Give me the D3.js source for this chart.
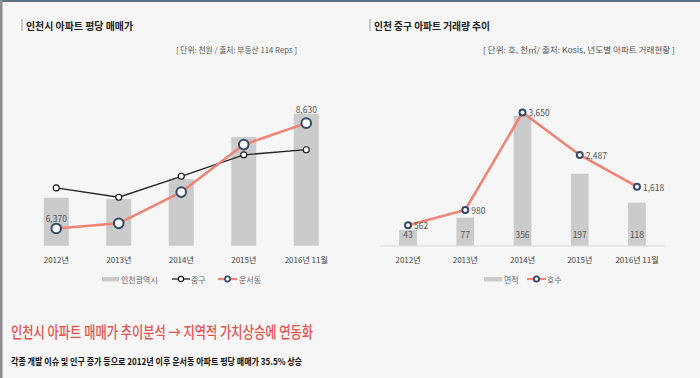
<!DOCTYPE html>
<html><head><meta charset="utf-8">
<script src="https://cdn.jsdelivr.net/npm/d3@7"></script>
<style>
html,body{margin:0;padding:0;background:#f6f6f6;}
svg{display:block;font-family:"Noto Sans CJK KR","Noto Sans",sans-serif;}
</style></head>
<body><svg id="c" width="700" height="378"></svg>
<script>
// ---- data ----
const years = ["2012년", "2013년", "2014년", "2015년", "2016년 11월"];
// left chart (천원)
const incheon = [7030, 7000, 7430, 8330, 8830];   // 인천광역시 (bars)
const junggu  = [7240, 7040, 7490, 7950, 8060];   // 중구
const unseo   = [6370, 6480, 7150, 8170, 8630];   // 운서동
const unseoLabels = ["6,370", null, null, null, "8,630"];
// right chart
const area  = [43, 77, 356, 197, 118];            // 면적 (천㎡)
const units = [562, 980, 3650, 2487, 1618];       // 호수

const svg = d3.select("#c");
// background & borders
svg.append("rect").attr("width",700).attr("height",378).attr("fill","#f6f6f6");
svg.append("rect").attr("x",0).attr("y",0).attr("width",700).attr("height",2).attr("fill","#5f7089");
svg.append("rect").attr("x",0).attr("y",0).attr("width",2.5).attr("height",378).attr("fill","#8c8c8c");

function txt(x,y,s,opt){
  const t = svg.append("text").attr("x",x).attr("y",y).text(s)
    .attr("font-size",opt.size).attr("fill",opt.fill||"#333")
    .attr("font-weight",opt.weight||"normal")
    .attr("text-anchor",opt.anchor||"start")
    .attr("dominant-baseline","central");
  if(opt.len){t.attr("textLength",opt.len).attr("lengthAdjust","spacingAndGlyphs");}
  return t;
}

// titles
svg.append("line").attr("x1",22).attr("x2",22).attr("y1",19).attr("y2",31).attr("stroke","#999").attr("stroke-width",1);
txt(26,25,"인천시 아파트 평당 매매가",{size:10.5,weight:"bold",fill:"#222",len:107});
svg.append("line").attr("x1",370).attr("x2",370).attr("y1",19).attr("y2",31).attr("stroke","#999").attr("stroke-width",1);
txt(374,25,"인천 중구 아파트 거래량 추이",{size:10.5,weight:"bold",fill:"#222",len:116});
txt(176,49,"[ 단위: 천원 / 출처: 부동산 114 Reps  ]",{size:7.5,fill:"#555",len:121});
txt(483,49,"[ 단위: 호, 천㎡/ 출처: Kosis, 년도별 아파트 거래현황  ]",{size:7.5,fill:"#555",len:192});

// ---- left chart ----
const salmon = "#ef8474", navy = "#34496a";
const xL = d3.scaleBand().domain(years).range([25,337.5]).paddingInner(0.6).paddingOuter(0.3);
const yL = d3.scaleLinear().domain([6000,9000]).range([245.7,105.9]);
const gL = svg.append("g");
gL.selectAll("rect.b").data(years).join("rect")
  .attr("x",d=>xL(d)).attr("width",xL.bandwidth())
  .attr("y",(d,i)=>yL(incheon[i])).attr("height",(d,i)=>yL(6000)-yL(incheon[i]))
  .attr("fill","#cbcbcb");
const cx = d=>xL(d)+xL.bandwidth()/2;
const lineL = arr => d3.line().x((d,i)=>cx(years[i])).y(d=>yL(d))(arr);
gL.append("path").attr("d",lineL(junggu)).attr("fill","none").attr("stroke","#222").attr("stroke-width",1.3);
gL.selectAll("circle.j").data(junggu).join("circle")
  .attr("cx",(d,i)=>cx(years[i])).attr("cy",d=>yL(d)).attr("r",3)
  .attr("fill","#fff").attr("stroke","#111").attr("stroke-width",1.1);
gL.append("path").attr("d",lineL(unseo)).attr("fill","none").attr("stroke",salmon).attr("stroke-width",2.6);
gL.selectAll("circle.u").data(unseo).join("circle")
  .attr("cx",(d,i)=>cx(years[i])).attr("cy",d=>yL(d)).attr("r",4.8)
  .attr("fill","#fff").attr("stroke",navy).attr("stroke-width",2);
unseoLabels.forEach((l,i)=>{
  if(!l) return;
  const yy = i===4 ? yL(incheon[i])-5 : yL(unseo[i])-10;
  txt(cx(years[i]),yy,l,{size:8.5,fill:"#555",anchor:"middle"});
});
years.forEach(y=>txt(cx(y),259,y,{size:8,fill:"#444",anchor:"middle"}));
// left legend
svg.append("rect").attr("x",102).attr("y",277).attr("width",17).attr("height",4.5).attr("fill","#cbcbcb");
txt(121,279,"인천광역시",{size:8,fill:"#666"});
svg.append("line").attr("x1",172).attr("x2",190).attr("y1",279).attr("y2",279).attr("stroke","#222").attr("stroke-width",1.3);
svg.append("circle").attr("cx",181).attr("cy",279).attr("r",2.6).attr("fill","#fff").attr("stroke","#111").attr("stroke-width",1.1);
txt(191,279,"중구",{size:8,fill:"#666"});
svg.append("line").attr("x1",218).attr("x2",237).attr("y1",279).attr("y2",279).attr("stroke",salmon).attr("stroke-width",2.2);
svg.append("circle").attr("cx",227.5).attr("cy",279).attr("r",2.6).attr("fill","#fff").attr("stroke",navy).attr("stroke-width",1.6);
txt(239,279,"운서동",{size:8,fill:"#666"});

// ---- right chart ----
const xR = d3.scaleBand().domain(years).range([379.4,665.6]).paddingInner(0.69).paddingOuter(0.345);
const yB = d3.scaleLinear().domain([0,400]).range([245.7,99.7]);
const yU = d3.scaleLinear().domain([0,4000]).range([245.7,99.7]);
const cxR = d=>xR(d)+xR.bandwidth()/2;
const gR = svg.append("g");
gR.selectAll("rect").data(area).join("rect")
  .attr("x",(d,i)=>xR(years[i])).attr("width",xR.bandwidth())
  .attr("y",d=>yB(d)).attr("height",d=>yB(0)-yB(d)).attr("fill","#cbcbcb");
gR.append("line").attr("x1",380).attr("x2",665).attr("y1",245.9).attr("y2",245.9).attr("stroke","#d9d9d9").attr("stroke-width",1);
area.forEach((d,i)=>txt(cxR(years[i]),233.5,String(d),{size:8.5,fill:"#555",anchor:"middle"}));
gR.append("path").attr("d",d3.line().x((d,i)=>cxR(years[i])).y(d=>yU(d))(units))
  .attr("fill","none").attr("stroke",salmon).attr("stroke-width",2.6);
gR.selectAll("circle").data(units).join("circle")
  .attr("cx",(d,i)=>cxR(years[i])).attr("cy",d=>yU(d)).attr("r",3)
  .attr("fill","#fff").attr("stroke",navy).attr("stroke-width",2);
units.forEach((d,i)=>txt(cxR(years[i])+6,yU(d),d3.format(",")(d),{size:8.5,fill:"#555"}));
years.forEach(y=>txt(cxR(y),259,y,{size:8,fill:"#444",anchor:"middle"}));
// right legend
svg.append("rect").attr("x",484).attr("y",277).attr("width",18).attr("height",4.5).attr("fill","#cbcbcb");
txt(504,279,"면적",{size:8,fill:"#666"});
svg.append("line").attr("x1",527).attr("x2",546).attr("y1",279).attr("y2",279).attr("stroke",salmon).attr("stroke-width",2.2);
svg.append("circle").attr("cx",536.5).attr("cy",279).attr("r",2.6).attr("fill","#fff").attr("stroke",navy).attr("stroke-width",1.8);
txt(547,279,"호수",{size:8,fill:"#666"});

// ---- bottom text ----
txt(11,331,"인천시 아파트 매매가 추이분석 → 지역적 가치상승에 연동화",{size:16,weight:500,fill:"#e6534f",len:302});
txt(11,361,"각종 개발 이슈 및 인구 증가 등으로 2012년 이후 운서동 아파트 평당 매매가 35.5% 상승",{size:9.5,weight:"bold",fill:"#111",len:291});
</script></body></html>
